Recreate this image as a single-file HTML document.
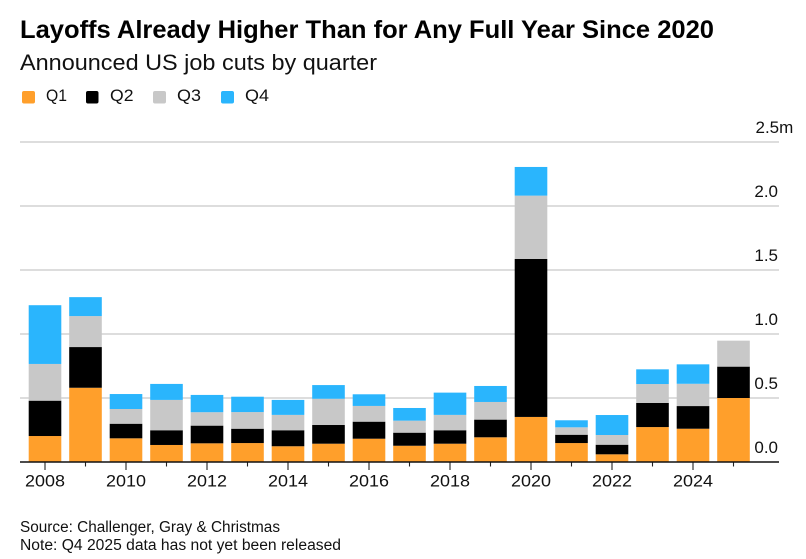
<!DOCTYPE html>
<html lang="en">
<head>
<meta charset="utf-8">
<title>Layoffs Already Higher Than for Any Full Year Since 2020</title>
<style>
html,body{margin:0;padding:0;background:#fff;}
body{width:806px;height:559px;overflow:hidden;}
svg{display:block;font-family:"Liberation Sans",sans-serif;fill:#111;}
</style>
</head>
<body>
<svg id="chart" width="806" height="559" viewBox="0 0 806 559" xmlns="http://www.w3.org/2000/svg">
  <rect width="806" height="559" fill="#fff"/>
  <text x="20" y="38" font-size="25" font-weight="700" fill="#000" textLength="694" lengthAdjust="spacingAndGlyphs">Layoffs Already Higher Than for Any Full Year Since 2020</text>
  <text x="20" y="70" font-size="22" textLength="357" lengthAdjust="spacingAndGlyphs">Announced US job cuts by quarter</text>
  <g font-size="17">
    <g>
      <rect x="22" y="91" width="13" height="12.5" rx="2" fill="#ff9f2b"/>
      <text x="46" y="101" textLength="21" lengthAdjust="spacingAndGlyphs">Q1</text>
    </g>
    <g>
      <rect x="86" y="91" width="12.5" height="12.5" rx="2" fill="#000"/>
      <text x="110" y="101" textLength="23.5" lengthAdjust="spacingAndGlyphs">Q2</text>
    </g>
    <g>
      <rect x="153" y="91" width="13" height="12.5" rx="2" fill="#c8c8c8"/>
      <text x="177" y="101" textLength="24" lengthAdjust="spacingAndGlyphs">Q3</text>
    </g>
    <g>
      <rect x="221" y="91" width="13" height="12.5" rx="2" fill="#2ab5fd"/>
      <text x="245" y="101" textLength="24" lengthAdjust="spacingAndGlyphs">Q4</text>
    </g>
  </g>
  <g id="grid"></g>
  <g id="bars"></g>
  <g id="xaxis"></g>
  <g id="yaxis"></g>
  <text x="20" y="532" font-size="15.5" textLength="260" lengthAdjust="spacingAndGlyphs">Source: Challenger, Gray &amp; Christmas</text>
  <text x="20" y="550" font-size="15.5" textLength="321" lengthAdjust="spacingAndGlyphs">Note: Q4 2025 data has not yet been released</text>
</svg>
<script>
var years = [2008,2009,2010,2011,2012,2013,2014,2015,2016,2017,2018,2019,2020,2021,2022,2023,2024,2025];
// Announced job cuts, in millions
var q1 = [0.203,0.580,0.185,0.133,0.146,0.148,0.123,0.143,0.182,0.127,0.143,0.193,0.352,0.148,0.060,0.273,0.260,0.500];
var q2 = [0.276,0.318,0.114,0.115,0.138,0.112,0.125,0.146,0.133,0.102,0.105,0.138,1.234,0.065,0.075,0.188,0.177,0.245];
var q3 = [0.287,0.242,0.115,0.237,0.105,0.130,0.120,0.205,0.123,0.094,0.120,0.138,0.495,0.058,0.076,0.148,0.174,0.203];
var q4 = [0.459,0.148,0.117,0.125,0.135,0.120,0.117,0.107,0.091,0.099,0.174,0.125,0.224,0.055,0.156,0.115,0.152,0];
var yTicks = [0,0.5,1,1.5,2,2.5];
var yTickLabels = ["0.0","0.5","1.0","1.5","2.0","2.5m"];
var xTickLabels = ["2008","2010","2012","2014","2016","2018","2020","2022","2024"];

var NS = "http://www.w3.org/2000/svg";
var seriesList = [q1,q2,q3,q4];
var seriesNames = ["q1","q2","q3","q4"];
var seriesColors = ["#ff9f2b","#000000","#c8c8c8","#2ab5fd"];
var baseY = 462, pxPerMillion = 128, firstX = 45, stepX = 40.5, barW = 32.6;
var left = 20, right = 779;

function xScale(i){ return firstX + i * stepX; }
function yScale(v){ return baseY - v * pxPerMillion; }
function make(tag, attrs, parent){
  var el = document.createElementNS(NS, tag);
  for (var k in attrs) el.setAttribute(k, attrs[k]);
  parent.appendChild(el);
  return el;
}

var grid = document.getElementById("grid");
var barsG = document.getElementById("bars");
var xaxis = document.getElementById("xaxis");
var yaxis = document.getElementById("yaxis");

yTicks.forEach(function(t, i){
  if (t !== 0) {
    var line = make("line", {x1:left, x2:right, y1:yScale(t), y2:yScale(t), stroke:"#d2d2d2", "stroke-width":1.4}, grid);
    
    
  }
  var label = make("text", {x:778, y:yScale(t) - 9, "font-size":17}, yaxis);
  
  
  if (i === yTicks.length - 1) { label.setAttribute("x", 755.5); }
  else { label.setAttribute("text-anchor", "end"); }
  label.textContent = yTickLabels[i];
});

years.forEach(function(year, i){
  var cum = 0;
  seriesList.forEach(function(series, s){
    var v = series[i];
    if (!v) return;
    var top = yScale(cum + v), bottom = yScale(cum);
    var bar = make("rect", {x:xScale(i) - barW / 2, y:top, width:barW, height:bottom - top, fill:seriesColors[s]}, barsG);
    
    
    bar.setAttribute('data-series', seriesNames[s]);
    bar.setAttribute('data-year', year);
    cum += v;
  });
  var major = xTickLabels.indexOf(String(year)) >= 0;
  var tick = make("line", {x1:xScale(i), x2:xScale(i), y1:baseY, y2:baseY + (major ? 8 : 4.5), stroke:"#222", "stroke-width":1.1}, xaxis);
  
  
  if (major) {
    var lab = make("text", {x:xScale(i), y:486.5, "font-size":17, "text-anchor":"middle", textLength:40, lengthAdjust:"spacingAndGlyphs"}, xaxis);
    
    
    lab.textContent = String(year);
  }
});

var axisLine = make("line", {x1:left, x2:right, y1:baseY, y2:baseY, stroke:"#111", "stroke-width":1.4}, xaxis);


</script>
</body>
</html>
